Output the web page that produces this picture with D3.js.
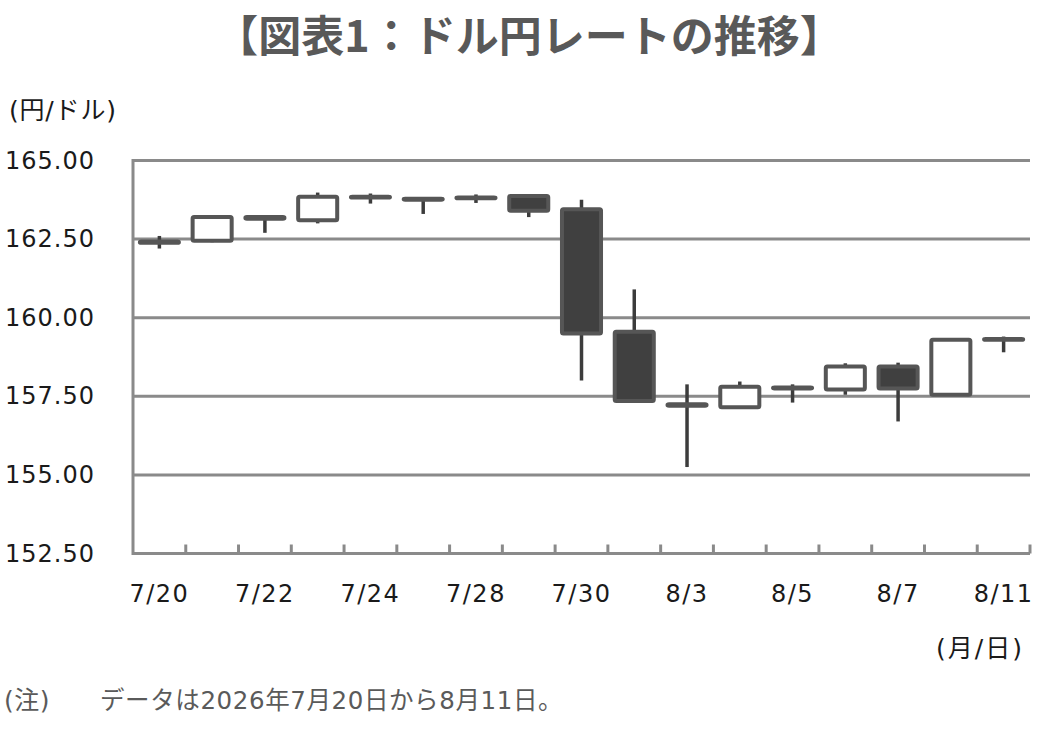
<!DOCTYPE html>
<html>
<head>
<meta charset="utf-8">
<script src="https://cdn.jsdelivr.net/npm/d3@7"></script>
<style>
  body { margin: 0; background: #fff; }
  text { font-family: "DejaVu Sans", "Noto Sans CJK JP", sans-serif; }
</style>
</head>
<body>
<script>
const dates = ['7/20','7/21','7/22','7/23','7/24','7/27','7/28','7/29','7/30','7/31','8/3','8/4','8/5','8/6','8/7','8/10','8/11']
const openVals  = [162.38, 162.45, 163.15, 163.10, 163.85, 163.78, 163.80, 163.87, 163.45, 159.55, 157.20, 157.15, 157.75, 157.72, 158.45, 157.55, 159.30]
const closeVals = [162.42, 163.20, 163.20, 163.85, 163.82, 163.75, 163.82, 163.40, 159.50, 157.35, 157.25, 157.80, 157.78, 158.45, 157.75, 159.30, 159.32]
const highVals  = [162.60, 163.25, 163.20, 163.98, 163.95, 163.78, 163.92, 163.90, 163.75, 160.90, 157.88, 157.97, 157.88, 158.55, 158.57, 159.32, 159.40]
const lowVals   = [162.20, 162.40, 162.70, 163.00, 163.63, 163.30, 163.65, 163.20, 158.00, 157.30, 155.25, 157.15, 157.30, 157.55, 156.70, 157.53, 158.90]
const yTicks = [152.5, 155, 157.5, 160, 162.5, 165]
const xLabels = ['7/20','7/22','7/24','7/28','7/30','8/3','8/5','8/7','8/11']

const width = 1049, height = 749

const svg = d3.select('body')
    .append('svg')
    .attr('width', width)
    .attr('height', height)

const xScale = d3.scaleBand()
    .domain(dates)
    .range([133, 1030])
    .paddingInner(0.26)
    .paddingOuter(0.13)

const yScale = d3.scaleLinear()
    .domain([152.5, 165])
    .range([553.5, 160.5])

// title and unit labels
svg.append('text')
    .attr('x', 529).attr('y', 52)
    .attr('text-anchor', 'middle')
    .style('font-family', '"Noto Sans CJK JP", sans-serif')
    .style('font-size', '43px')
    .style('font-weight', 'bold')
    .attr('fill', '#595959')
    .text('【図表1：ドル円レートの推移】')

svg.append('text')
    .attr('x', 9).attr('y', 119)
    .style('font-size', '25px')
    .style('letter-spacing', '0.8px')
    .attr('fill', '#1a1a1a')
    .text('(円/ドル)')

// gridlines
svg.append('g')
    .selectAll('line')
    .data(yTicks)
    .join('line')
    .attr('x1', 133).attr('x2', 1030)
    .attr('y1', d => yScale(d)).attr('y2', d => yScale(d))
    .attr('stroke', '#8a8a8a')
    .attr('stroke-width', 3)

svg.append('line')
    .attr('x1', 133).attr('x2', 133)
    .attr('y1', yScale(165) - 1.5).attr('y2', yScale(152.5) + 1.5)
    .attr('stroke', '#8a8a8a')
    .attr('stroke-width', 3)

// category tick marks (between days)
const step = xScale.step()
svg.append('g')
    .selectAll('line')
    .data(dates)
    .join('line')
    .attr('x1', d => xScale(d) - xScale.paddingInner() * step / 2 + step)
    .attr('x2', d => xScale(d) - xScale.paddingInner() * step / 2 + step)
    .attr('y1', yScale(152.5)).attr('y2', yScale(152.5) - 9)
    .attr('stroke', '#8a8a8a')
    .attr('stroke-width', 3)

// y axis labels
const yAxis = d3.axisLeft(yScale)
    .tickValues(yTicks)
    .tickFormat(d3.format('.2f'))
    .tickSize(0)
    .tickPadding(38)

const gy = svg.append('g')
    .attr('transform', 'translate(133, 0)')
    .call(yAxis)
gy.select('.domain').remove()
gy.selectAll('text')
    .style('font-family', '"DejaVu Sans", sans-serif')
    .style('font-size', '24px')
    .style('letter-spacing', '1px')
    .attr('fill', '#1a1a1a')

// x axis labels
const xAxis = d3.axisBottom(xScale)
    .tickValues(xLabels)
    .tickSize(0)
    .tickPadding(31)

const gx = svg.append('g')
    .attr('transform', `translate(0, ${yScale(152.5)})`)
    .call(xAxis)
gx.select('.domain').remove()
gx.selectAll('text')
    .style('font-family', '"DejaVu Sans", sans-serif')
    .style('font-size', '24px')
    .style('letter-spacing', '1.5px')
    .attr('fill', '#1a1a1a')

svg.append('text')
    .attr('x', 1024).attr('y', 657)
    .attr('text-anchor', 'end')
    .style('font-size', '25px')
    .style('letter-spacing', '2px')
    .attr('fill', '#1a1a1a')
    .text('(月/日)')

// candles
const candles = dates.map((d, i) => ({
    date: d, open: openVals[i], close: closeVals[i], high: highVals[i], low: lowVals[i]
}))

const cg = svg.append('g')
cg.selectAll('line.wick')
    .data(candles)
    .join('line')
    .attr('class', 'wick')
    .attr('x1', d => xScale(d.date) + xScale.bandwidth() / 2)
    .attr('x2', d => xScale(d.date) + xScale.bandwidth() / 2)
    .attr('y1', d => yScale(d.high))
    .attr('y2', d => yScale(d.low))
    .attr('stroke', '#3c3c3c')
    .attr('stroke-width', 3.5)

cg.selectAll('rect.body')
    .data(candles)
    .join('rect')
    .attr('class', 'body')
    .attr('x', d => xScale(d.date))
    .attr('width', xScale.bandwidth())
    .attr('y', d => yScale(Math.max(d.open, d.close)))
    .attr('height', d => Math.abs(yScale(d.open) - yScale(d.close)))
    .attr('rx', 1.5)
    .attr('fill', d => d.close >= d.open ? '#ffffff' : '#404040')
    .attr('stroke', '#565656')
    .attr('stroke-width', 4)

// note
svg.append('text')
    .attr('x', 4).attr('y', 709)
    .style('font-size', '25px')
    .style('letter-spacing', '0.5px')
    .attr('fill', '#5a5a5a')
    .text('(注)')

svg.append('text')
    .attr('x', 100).attr('y', 709)
    .style('font-size', '24.5px')
    .style('letter-spacing', '0.6px')
    .attr('fill', '#5a5a5a')
    .text('データは2026年7月20日から8月11日。')
</script>
</body>
</html>
